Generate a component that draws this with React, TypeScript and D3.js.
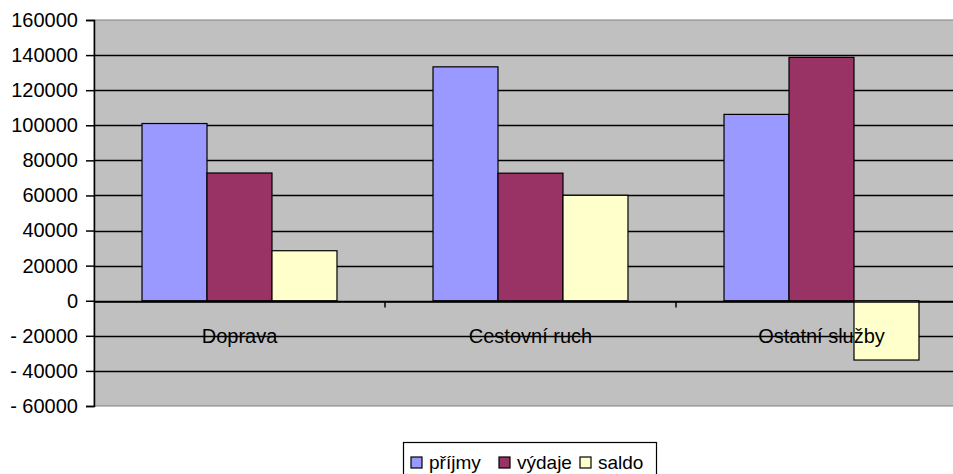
import * as d3 from 'd3';
import React, { createRef, useEffect } from 'react';

const WIDTH = 953;
const HEIGHT = 474;

const categories = ['Doprava', 'Cestovní ruch', 'Ostatní služby'];
const seriesNames = ['příjmy', 'výdaje', 'saldo'];
const prijmy = [101000, 133300, 106200];
const vydaje = [72800, 72700, 138700];
const saldo = [28500, 60100, -33800];
const yTicks = [-60000, -40000, -20000, 0, 20000, 40000, 60000, 80000, 100000, 120000, 140000, 160000];

const COLORS = ['#9999FF', '#993366', '#FFFFCC'];
const FONT = 'Arial, "Liberation Sans", sans-serif';

const plot = { left: 94, top: 20, bottom: 406, bandWidth: 291 };

const App: React.FC = () => {
  const ref = createRef<SVGSVGElement>();

  useEffect(() => {
    const svg = d3.select(ref.current);
    svg.selectAll('*').remove();

    const values = [prijmy, vydaje, saldo];
    const right = plot.left + plot.bandWidth * categories.length;

    const x = d3.scaleBand<string>().domain(categories).range([plot.left, right]);
    const groupWidth = x.bandwidth() * 0.67;
    const xSub = d3
      .scaleBand<string>()
      .domain(seriesNames)
      .range([(x.bandwidth() - groupWidth) / 2, (x.bandwidth() + groupWidth) / 2]);
    const y = d3.scaleLinear().domain([-60000, 160000]).range([plot.bottom, plot.top]);

    // plot background
    svg
      .append('rect')
      .attr('x', plot.left)
      .attr('y', plot.top)
      .attr('width', right - plot.left)
      .attr('height', plot.bottom - plot.top)
      .attr('fill', '#C0C0C0')
      .attr('stroke', '#808080')
      .attr('stroke-width', 1);

    // gridlines
    svg
      .append('g')
      .selectAll('line')
      .data(yTicks.filter(t => t !== -60000 && t !== 160000))
      .enter()
      .append('line')
      .attr('x1', plot.left)
      .attr('x2', right)
      .attr('y1', d => Math.round(y(d)) + 0.5)
      .attr('y2', d => Math.round(y(d)) + 0.5)
      .attr('stroke', '#000')
      .attr('stroke-width', 1.5);

    // bars
    svg
      .append('g')
      .selectAll('g')
      .data(seriesNames)
      .enter()
      .append('g')
      .attr('fill', (d, i) => COLORS[i])
      .selectAll('rect')
      .data((s, si) => categories.map((c, ci) => ({ c, s, v: values[si][ci] })))
      .enter()
      .append('rect')
      .attr('x', d => (x(d.c) || 0) + (xSub(d.s) || 0))
      .attr('y', d => y(Math.max(0, d.v)))
      .attr('width', xSub.bandwidth())
      .attr('height', d => Math.abs(y(d.v) - y(0)))
      .attr('stroke', '#000')
      .attr('stroke-width', 1.2);

    // y axis
    const yAxis = d3
      .axisLeft(y)
      .tickValues(yTicks)
      .tickSize(8)
      .tickPadding(8)
      .tickFormat(d => {
        const n = +d;
        return n < 0 ? `- ${Math.abs(n)}` : `${n}`;
      });
    const gy = svg.append('g').attr('transform', `translate(${plot.left},0)`).call(yAxis);
    gy.select('.domain').attr('stroke', '#000').attr('stroke-width', 1.5);
    gy.selectAll('.tick line').attr('stroke', '#000').attr('stroke-width', 1.5);
    gy.selectAll('.tick text')
      .attr('font-family', FONT)
      .attr('font-size', 20)
      .attr('fill', '#000');

    // x axis at zero
    const xAxis = d3.axisBottom(x).tickValues([]).tickSizeOuter(0);
    const gx = svg.append('g').attr('transform', `translate(0,${Math.round(y(0)) + 0.5})`).call(xAxis);
    gx.select('.domain').attr('stroke', '#000').attr('stroke-width', 1.5);
    gx.selectAll('.boundary')
      .data(categories.slice(1))
      .enter()
      .append('line')
      .attr('x1', d => x(d) || 0)
      .attr('x2', d => x(d) || 0)
      .attr('y1', 0)
      .attr('y2', 6)
      .attr('stroke', '#000')
      .attr('stroke-width', 1.5);

    // category labels
    svg
      .append('g')
      .selectAll('text')
      .data(categories)
      .enter()
      .append('text')
      .attr('x', d => (x(d) || 0) + x.bandwidth() / 2)
      .attr('y', y(-20000) + 7)
      .attr('text-anchor', 'middle')
      .attr('font-family', FONT)
      .attr('font-size', 20)
      .attr('fill', '#000')
      .text(d => d);

    // legend
    const legend = svg.append('g');
    legend
      .append('rect')
      .attr('x', 403.5)
      .attr('y', 442.5)
      .attr('width', 253)
      .attr('height', 40)
      .attr('fill', '#fff')
      .attr('stroke', '#000')
      .attr('stroke-width', 1.2);
    const legendX = [411, 499, 580];
    const item = legend
      .selectAll('g')
      .data(seriesNames)
      .enter()
      .append('g')
      .attr('transform', (d, i) => `translate(${legendX[i]},457)`);
    item
      .append('rect')
      .attr('width', 11)
      .attr('height', 11)
      .attr('fill', (d, i) => COLORS[i])
      .attr('stroke', '#000')
      .attr('stroke-width', 1.2);
    item
      .append('text')
      .attr('x', 18)
      .attr('y', 12)
      .attr('font-family', FONT)
      .attr('font-size', 19)
      .attr('fill', '#000')
      .text(d => d);
  }, []);

  return (
    <svg
      ref={ref}
      width={WIDTH}
      height={HEIGHT}
      viewBox={`0 0 ${WIDTH} ${HEIGHT}`}
      style={{ position: 'absolute', left: 0, top: 0, background: '#fff' }}
    />
  );
};

export default App;
